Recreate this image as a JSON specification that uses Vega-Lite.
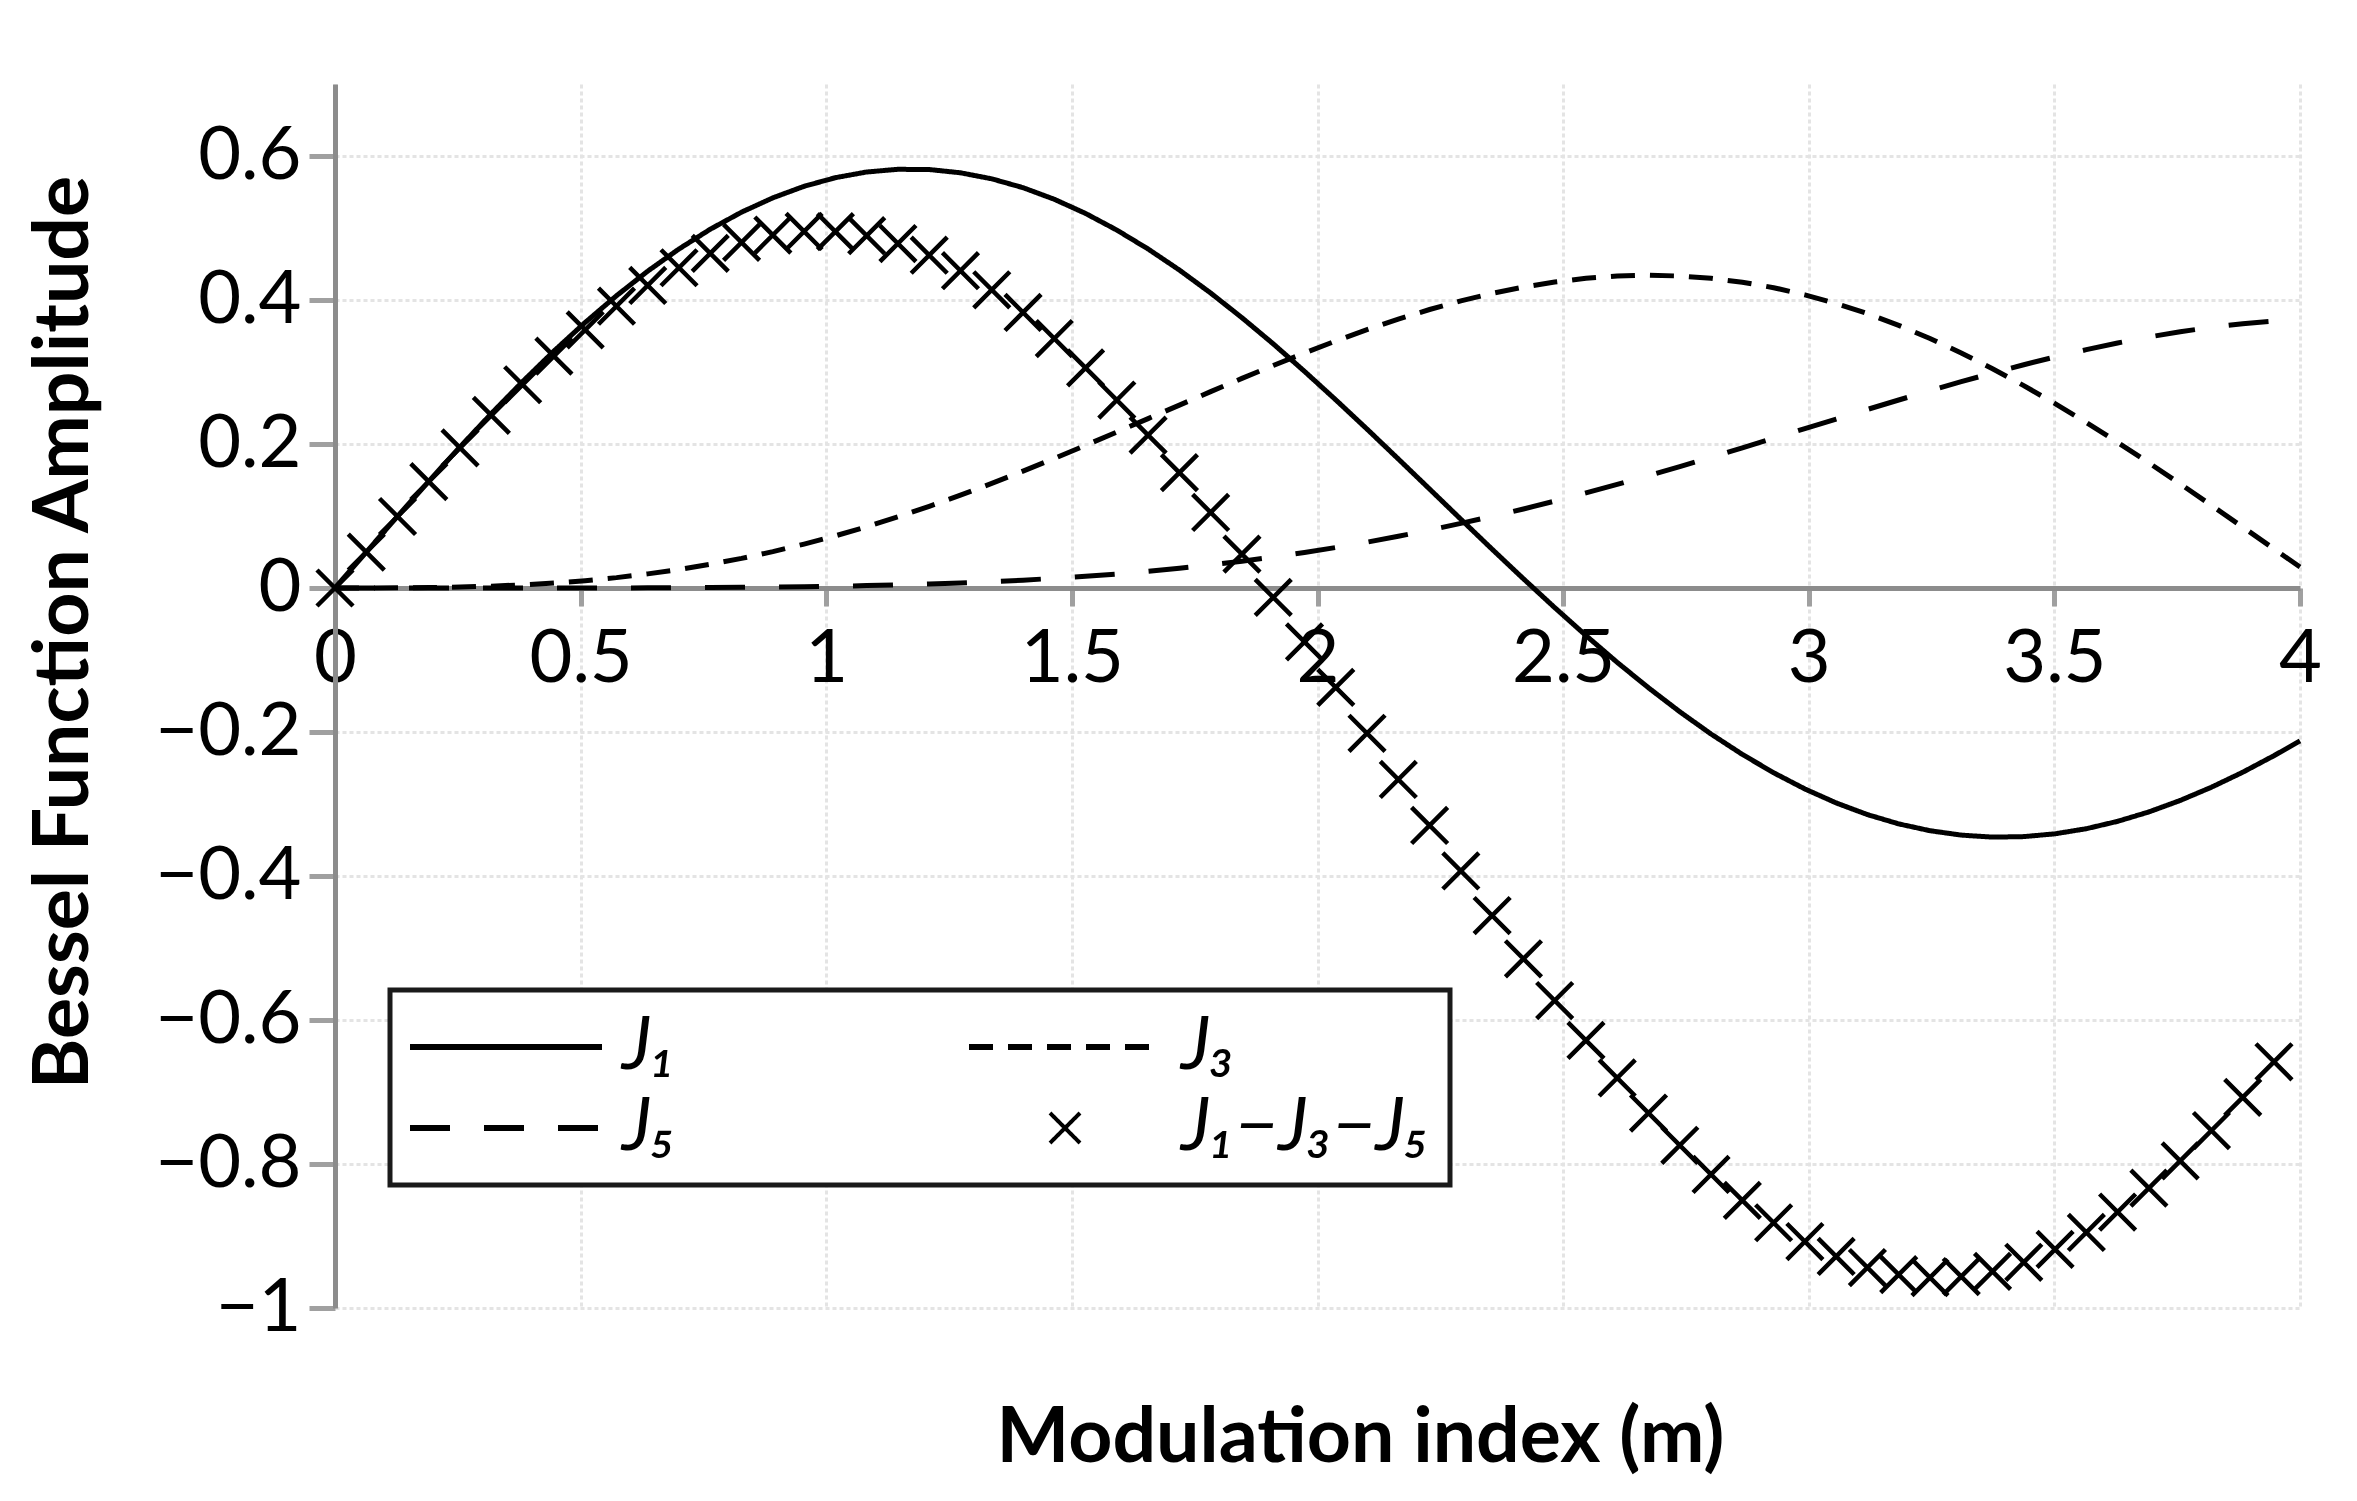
{
  "$schema": "https://vega.github.io/schema/vega-lite/v6.json",
  "width": 1965,
  "height": 1224,
  "autosize": {"type": "none"},
  "padding": {"left": 335, "top": 84, "right": 57, "bottom": 193},
  "background": "white",
  "data": {
    "values": [
      {"m": 0, "j1": 0, "j3": 0, "j5": 0, "c": 0},
      {"m": 0.0637, "j1": 0.0499, "j3": 0.0, "j5": 0, "c": 0.0499},
      {"m": 0.1273, "j1": 0.0995, "j3": 0.0002, "j5": 0, "c": 0.0993},
      {"m": 0.191, "j1": 0.1483, "j3": 0.0006, "j5": 0, "c": 0.1478},
      {"m": 0.2546, "j1": 0.196, "j3": 0.0013, "j5": 0, "c": 0.1947},
      {"m": 0.3183, "j1": 0.2423, "j3": 0.0026, "j5": 0, "c": 0.2397},
      {"m": 0.382, "j1": 0.2867, "j3": 0.0044, "j5": 0, "c": 0.2823},
      {"m": 0.4456, "j1": 0.329, "j3": 0.0069, "j5": 0, "c": 0.322},
      {"m": 0.5093, "j1": 0.3688, "j3": 0.0102, "j5": 0.0001, "c": 0.3585},
      {"m": 0.573, "j1": 0.4059, "j3": 0.0144, "j5": 0.0001, "c": 0.3914},
      {"m": 0.6366, "j1": 0.4401, "j3": 0.0196, "j5": 0.0002, "c": 0.4202},
      {"m": 0.7003, "j1": 0.4709, "j3": 0.0257, "j5": 0.0004, "c": 0.4448},
      {"m": 0.7639, "j1": 0.4983, "j3": 0.0329, "j5": 0.0006, "c": 0.4648},
      {"m": 0.8276, "j1": 0.522, "j3": 0.0411, "j5": 0.0009, "c": 0.48},
      {"m": 0.8913, "j1": 0.5419, "j3": 0.0505, "j5": 0.0013, "c": 0.4902},
      {"m": 0.9549, "j1": 0.5579, "j3": 0.061, "j5": 0.0018, "c": 0.4952},
      {"m": 1.0186, "j1": 0.5699, "j3": 0.0725, "j5": 0.0025, "c": 0.4949},
      {"m": 1.0823, "j1": 0.5778, "j3": 0.0851, "j5": 0.0033, "c": 0.4893},
      {"m": 1.1459, "j1": 0.5815, "j3": 0.0988, "j5": 0.0043, "c": 0.4784},
      {"m": 1.2096, "j1": 0.5812, "j3": 0.1134, "j5": 0.0055, "c": 0.4622},
      {"m": 1.2732, "j1": 0.5767, "j3": 0.1289, "j5": 0.007, "c": 0.4407},
      {"m": 1.3369, "j1": 0.5683, "j3": 0.1453, "j5": 0.0088, "c": 0.4142},
      {"m": 1.4006, "j1": 0.556, "j3": 0.1623, "j5": 0.0109, "c": 0.3827},
      {"m": 1.4642, "j1": 0.5399, "j3": 0.18, "j5": 0.0134, "c": 0.3465},
      {"m": 1.5279, "j1": 0.5202, "j3": 0.1981, "j5": 0.0162, "c": 0.3058},
      {"m": 1.5915, "j1": 0.4971, "j3": 0.2166, "j5": 0.0194, "c": 0.2611},
      {"m": 1.6552, "j1": 0.4708, "j3": 0.2353, "j5": 0.0232, "c": 0.2123},
      {"m": 1.7189, "j1": 0.4416, "j3": 0.254, "j5": 0.0274, "c": 0.1602},
      {"m": 1.7825, "j1": 0.4097, "j3": 0.2727, "j5": 0.0321, "c": 0.1049},
      {"m": 1.8462, "j1": 0.3754, "j3": 0.2911, "j5": 0.0373, "c": 0.0471},
      {"m": 1.9099, "j1": 0.3391, "j3": 0.3091, "j5": 0.043, "c": -0.013},
      {"m": 1.9735, "j1": 0.3009, "j3": 0.3264, "j5": 0.0493, "c": -0.0749},
      {"m": 2.0372, "j1": 0.2613, "j3": 0.3431, "j5": 0.0562, "c": -0.138},
      {"m": 2.1008, "j1": 0.2207, "j3": 0.3588, "j5": 0.0637, "c": -0.2018},
      {"m": 2.1645, "j1": 0.1792, "j3": 0.3734, "j5": 0.0718, "c": -0.2659},
      {"m": 2.2282, "j1": 0.1374, "j3": 0.3868, "j5": 0.0804, "c": -0.3298},
      {"m": 2.2918, "j1": 0.0955, "j3": 0.3988, "j5": 0.0897, "c": -0.393},
      {"m": 2.3555, "j1": 0.0538, "j3": 0.4092, "j5": 0.0995, "c": -0.4549},
      {"m": 2.4192, "j1": 0.0128, "j3": 0.418, "j5": 0.1098, "c": -0.515},
      {"m": 2.4828, "j1": -0.0272, "j3": 0.425, "j5": 0.1207, "c": -0.573},
      {"m": 2.5465, "j1": -0.066, "j3": 0.4302, "j5": 0.1321, "c": -0.6283},
      {"m": 2.6101, "j1": -0.1033, "j3": 0.4333, "j5": 0.1439, "c": -0.6805},
      {"m": 2.6738, "j1": -0.1386, "j3": 0.4344, "j5": 0.1561, "c": -0.7292},
      {"m": 2.7375, "j1": -0.1719, "j3": 0.4333, "j5": 0.1687, "c": -0.774},
      {"m": 2.8011, "j1": -0.2028, "j3": 0.4301, "j5": 0.1816, "c": -0.8145},
      {"m": 2.8648, "j1": -0.2311, "j3": 0.4247, "j5": 0.1947, "c": -0.8505},
      {"m": 2.9285, "j1": -0.2566, "j3": 0.4171, "j5": 0.208, "c": -0.8816},
      {"m": 2.9921, "j1": -0.2791, "j3": 0.4072, "j5": 0.2214, "c": -0.9077},
      {"m": 3.0558, "j1": -0.2985, "j3": 0.3952, "j5": 0.2347, "c": -0.9284},
      {"m": 3.1194, "j1": -0.3147, "j3": 0.3811, "j5": 0.248, "c": -0.9438},
      {"m": 3.1831, "j1": -0.3276, "j3": 0.3648, "j5": 0.2611, "c": -0.9536},
      {"m": 3.2468, "j1": -0.3371, "j3": 0.3466, "j5": 0.274, "c": -0.9577},
      {"m": 3.3104, "j1": -0.3432, "j3": 0.3265, "j5": 0.2865, "c": -0.9563},
      {"m": 3.3741, "j1": -0.346, "j3": 0.3046, "j5": 0.2986, "c": -0.9492},
      {"m": 3.4377, "j1": -0.3453, "j3": 0.2811, "j5": 0.3101, "c": -0.9365},
      {"m": 3.5014, "j1": -0.3414, "j3": 0.2561, "j5": 0.3209, "c": -0.9185},
      {"m": 3.5651, "j1": -0.3343, "j3": 0.2298, "j5": 0.331, "c": -0.8951},
      {"m": 3.6287, "j1": -0.3241, "j3": 0.2023, "j5": 0.3403, "c": -0.8667},
      {"m": 3.6924, "j1": -0.311, "j3": 0.1738, "j5": 0.3486, "c": -0.8335},
      {"m": 3.7561, "j1": -0.2951, "j3": 0.1446, "j5": 0.3559, "c": -0.7956},
      {"m": 3.8197, "j1": -0.2767, "j3": 0.1148, "j5": 0.3621, "c": -0.7535},
      {"m": 3.8834, "j1": -0.2559, "j3": 0.0846, "j5": 0.3671, "c": -0.7075},
      {"m": 3.947, "j1": -0.2329, "j3": 0.0543, "j5": 0.3708, "c": -0.658},
      {"m": 4, "j1": -0.2124, "j3": 0.0291, "j5": 0.3728}
    ]
  },
  "layer": [
    {
      "transform": [{"fold": ["j1", "j3", "j5"], "as": ["series", "value"]}],
      "mark": {"type": "line", "color": "black", "strokeWidth": 5},
      "encoding": {
        "x": {
          "field": "m",
          "type": "quantitative",
          "title": "Modulation index (m)",
          "scale": {"domain": [0, 4], "nice": false, "zero": false},
          "axis": {
            "values": [0, 0.5, 1, 1.5, 2, 2.5, 3, 3.5, 4],
            "format": "~g",
            "offset": -720,
            "labelFlush": false,
            "tickSize": 18,
            "labelPadding": 17,
            "titleX": 1025,
            "titleY": 873,
            "titleAlign": "center",
            "titleBaseline": "alphabetic",
            "titleAngle": 0
          }
        },
        "y": {
          "field": "value",
          "type": "quantitative",
          "title": "Bessel Function Amplitude",
          "scale": {"domain": [-1, 0.7], "nice": false},
          "axis": {
            "values": [-1, -0.8, -0.6, -0.4, -0.2, 0, 0.2, 0.4, 0.6],
            "format": "~g",
            "labelFlush": false,
            "tickSize": 26,
            "labelPadding": 8,
            "titleX": -248,
            "titleY": 548,
            "titleAngle": 270,
            "titleAlign": "center",
            "titleBaseline": "alphabetic"
          }
        },
        "strokeDash": {
          "field": "series",
          "type": "nominal",
          "scale": {
            "domain": ["j1", "j3", "j5", "c"],
            "range": [[1, 0], [24, 15], [40, 34], [1, 0]]
          },
          "legend": {
            "title": null,
            "orient": "none",
            "direction": "horizontal",
            "legendX": 55,
            "legendY": 906,
            "columns": 2,
            "columnPadding": 292,
            "rowPadding": 7,
            "padding": 20,
            "clipHeight": 74,
            "symbolType": "stroke",
            "symbolSize": 36864,
            "symbolOffset": 59,
            "symbolStrokeWidth": 6,
            "symbolStrokeColor": "black",
            "labelLimit": 0,
            "labelOffset": 79,
            "labelExpr": "datum.label == 'j1' ? 'J₁' : datum.label == 'j3' ? 'J₃' : datum.label == 'j5' ? 'J₅' : 'J₁−J₃−J₅'",
            "encode": {
              "symbols": {
                "update": {
                  "shape": {"signal": "datum.value == 'c' ? 'M-1,-1L1,1M-1,1L1,-1' : 'stroke'"},
                  "size": {"signal": "datum.value == 'c' ? 900 : 36864"},
                  "strokeWidth": {"signal": "datum.value == 'c' ? 4 : 6"}
                }
              }
            }
          }
        }
      }
    },
    {
      "transform": [{"filter": "isValid(datum.c)"}],
      "mark": {
        "type": "point",
        "shape": "M-1,-1L1,1M-1,1L1,-1",
        "filled": false,
        "color": "black",
        "strokeWidth": 4.5,
        "size": 1300,
        "opacity": 1
      },
      "encoding": {
        "x": {"field": "m", "type": "quantitative", "title": "Modulation index (m)"},
        "y": {"field": "c", "type": "quantitative", "title": "Bessel Function Amplitude"}
      }
    }
  ],
  "config": {
    "view": {"stroke": null},
    "font": "Lato",
    "axis": {
      "domainColor": "#8c8c8c",
      "domainWidth": 5,
      "tickColor": "#a0a0a0",
      "tickWidth": 5,
      "gridColor": "#e4e4e4",
      "gridWidth": 3,
      "gridDash": [4, 3],
      "labelFont": "Lato",
      "labelFontSize": 74,
      "labelColor": "black",
      "titleFont": "Lato",
      "titleFontSize": 77,
      "titleFontWeight": "bold",
      "titleColor": "black"
    },
    "legend": {
      "labelFont": "Lato",
      "labelFontSize": 74,
      "labelFontStyle": "italic",
      "labelColor": "black",
      "strokeColor": "#1a1a1a",
      "strokeWidth": 5,
      "fillColor": "white"
    }
  }
}
